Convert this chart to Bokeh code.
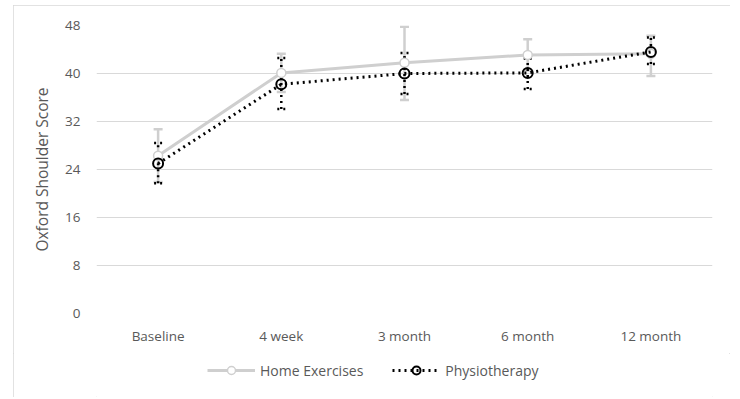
from bokeh.plotting import figure
from bokeh.models import ColumnDataSource, Whisker, TeeHead, Legend, LegendItem, FixedTicker, Range1d
from bokeh.layouts import column
from bokeh.embed import file_html
from bokeh.resources import INLINE

categories = ["Baseline", "4 week", "3 month", "6 month", "12 month"]
home_mean = [26.3, 40.1, 41.8, 43.1, 43.3]
home_upper = [30.7, 43.3, 47.8, 45.7, 46.3]
home_lower = [21.9, 36.9, 35.6, 40.5, 39.6]
physio_mean = [25.0, 38.2, 40.0, 40.1, 43.6]
physio_upper = [28.4, 42.6, 43.4, 42.5, 46.0]
physio_lower = [21.7, 34.1, 36.6, 37.4, 41.6]
y_ticks = [0, 8, 16, 24, 32, 40, 48]

FONT = "Open Sans"
GRAY_TXT = "#595959"
HOME_C = "#cfcfcf"

p = figure(x_range=categories, y_range=Range1d(0, 48), width=717, height=348,
           output_backend="svg", toolbar_location=None,
           min_border_left=83, min_border_right=18,
           min_border_top=20, min_border_bottom=40)
p.outline_line_color = None
p.background_fill_color = "white"
p.border_fill_color = "white"

p.yaxis.ticker = FixedTicker(ticks=y_ticks)
p.ygrid.grid_line_color = "#d9d9d9"
p.ygrid.grid_line_width = 1
p.xgrid.grid_line_color = None
for ax in (p.xaxis, p.yaxis):
    ax.axis_line_color = None
    ax.major_tick_line_color = None
    ax.minor_tick_line_color = None
    ax.major_tick_out = 0
    ax.major_tick_in = 0
    ax.major_label_text_font = FONT
    ax.major_label_text_font_size = "13.5px"
    ax.major_label_text_color = GRAY_TXT
p.xaxis.major_label_standoff = 13
p.yaxis.major_label_standoff = 16
p.yaxis.axis_label = "Oxford Shoulder Score"
p.yaxis.axis_label_text_font = FONT
p.yaxis.axis_label_text_font_size = "15.5px"
p.yaxis.axis_label_text_font_style = "normal"
p.yaxis.axis_label_text_color = GRAY_TXT
p.yaxis.axis_label_standoff = 9

src = ColumnDataSource(dict(x=categories, hm=home_mean, hu=home_upper, hl=home_lower,
                            pm=physio_mean, pu=physio_upper, pl=physio_lower))

hw = Whisker(source=src, base="x", upper="hu", lower="hl", line_color=HOME_C, line_width=2.5,
             upper_head=TeeHead(size=9, line_color=HOME_C, line_width=2.5),
             lower_head=TeeHead(size=9, line_color=HOME_C, line_width=2.5))
p.add_layout(hw)

p.line("x", "hm", source=src, line_color=HOME_C, line_width=3)
p.scatter("x", "hm", source=src, marker="circle", size=9, fill_color="white",
          line_color=HOME_C, line_width=1.5)

pw = Whisker(source=src, base="x", upper="pu", lower="pl", line_color="black", line_width=2.5,
             line_dash="dotted",
             upper_head=TeeHead(size=8, line_color="black", line_width=2.5, line_dash="dotted"),
             lower_head=TeeHead(size=8, line_color="black", line_width=2.5, line_dash="dotted"))
p.add_layout(pw)

p.line("x", "pm", source=src, line_color="black", line_width=3, line_dash="dotted")
p.scatter("x", "pm", source=src, marker="circle", size=10, fill_color=None,
          line_color="black", line_width=2)

# legend strip (proxy renderers hold no drawable points)
lf = figure(width=717, height=44, output_backend="svg", toolbar_location=None,
            x_range=(0, 1), y_range=(0, 1), min_border=0)
lf.axis.visible = False
lf.grid.visible = False
lf.outline_line_color = None
lf.border_fill_color = "white"
proxy = ColumnDataSource(dict(x=[float("nan")], y=[float("nan")]))
l1 = lf.line("x", "y", source=proxy, line_color=HOME_C, line_width=3)
c1 = lf.scatter("x", "y", source=proxy, marker="circle", size=9, fill_color="white",
                line_color=HOME_C, line_width=1.5)
l2 = lf.line("x", "y", source=proxy, line_color="black", line_width=3, line_dash="dotted")
c2 = lf.scatter("x", "y", source=proxy, marker="circle", size=10, fill_color=None,
                line_color="black", line_width=2)
legend = Legend(items=[LegendItem(label="Home Exercises", renderers=[l1, c1]),
                       LegendItem(label="Physiotherapy", renderers=[l2, c2])],
                orientation="horizontal", location=(111, 17),
                label_text_font=FONT, label_text_font_size="14px",
                label_text_color=GRAY_TXT, glyph_width=48, spacing=29,
                border_line_color=None, background_fill_alpha=0,
                margin=0, padding=2, label_standoff=5)
lf.add_layout(legend)

layout = column(p, lf, spacing=0, margin=(5, 0, 0, 13),
                styles={"outline": "1px solid #d9d9d9", "outline-offset": "-1px"})
open("out.html", "w").write(file_html(layout, INLINE))
